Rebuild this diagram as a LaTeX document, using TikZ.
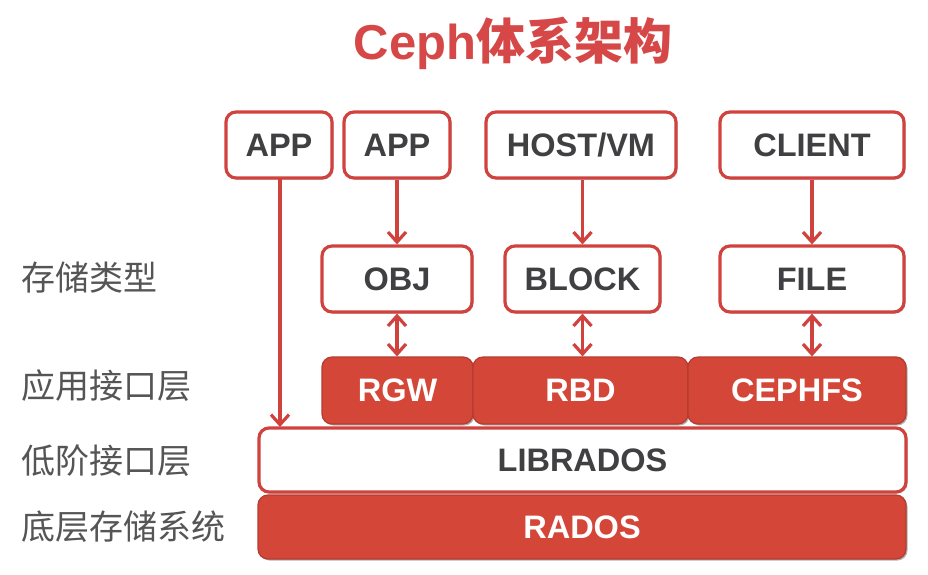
\documentclass[tikz,border=0pt]{standalone}
\usepackage{fontspec}
\setmainfont{Liberation Sans}
\newfontfamily\cjk{Noto Sans CJK SC}
\usetikzlibrary{arrows.meta,shadows}
\definecolor{cred}{RGB}{208,66,62}
\definecolor{cfill}{RGB}{212,70,56}
\definecolor{ctext}{RGB}{64,64,66}
\definecolor{clabel}{RGB}{85,85,85}
\definecolor{ctitle}{RGB}{214,72,72}
\tikzset{
  wbox/.style={draw=cred, line width=3.2pt, fill=white, rounded corners=10pt,
    text=ctext, font=\fontsize{32.5}{32.5}\selectfont\bfseries, inner sep=0pt,
    drop shadow={shadow xshift=1.5pt, shadow yshift=-1.5pt, opacity=0.25, fill=black}},
  rbox/.style={draw=cfill!85!black, line width=1.2pt, fill=cfill, rounded corners=10pt,
    text=white, font=\fontsize{32.5}{32.5}\selectfont\bfseries, inner sep=0pt,
    drop shadow={shadow xshift=1.5pt, shadow yshift=-1.5pt, opacity=0.3, fill=black}},
  lab/.style={text=clabel, font=\cjk\fontsize{34}{34}\selectfont, anchor=west, inner sep=0pt},
  conn/.style={draw=cred, line width=3.2pt, -{Straight Barb[length=10pt,width=18pt,line width=3.2pt]}},
  dconn/.style={draw=cred, line width=3.2pt, {Straight Barb[length=10pt,width=18pt,line width=3.2pt]}-{Straight Barb[length=10pt,width=18pt,line width=3.2pt]}},
}
\newcommand{\bx}[6]{\node[#1, minimum width=#4pt-#3pt, minimum height=#6pt-#5pt] (#2) at ({(#3+#4)/2*1pt},{-(#5+#6)/2*1pt})}
\begin{document}
\begin{tikzpicture}[x=1pt,y=-1pt]
\useasboundingbox[fill=white] (0,0) rectangle (928,574);
% title
\node[text=ctitle, font=\fontsize{49}{49}\selectfont\bfseries, inner sep=0pt] (title) at (513,43) {Ceph{\cjk\bfseries 体系架构}};
% left labels
\node[lab] (l1) at (21,278) {存储类型};
\node[lab] (l2) at (21,386) {应用接口层};
\node[lab] (l3) at (21,461) {低阶接口层};
\node[lab] (l4) at (21,527) {底层存储系统};
% bottom layers
\bx{rbox}{rados}{258}{906}{495}{559} {RADOS};
\bx{wbox}{librados}{259}{906}{428}{492} {LIBRADOS};
\bx{rbox}{rgw}{322}{473}{357}{424} {RGW};
\bx{rbox}{rbd}{473}{688}{357}{424} {RBD};
\bx{rbox}{cephfs}{688}{906}{357}{424} {CEPHFS};
% storage types
\bx{wbox}{obj}{322}{472}{246}{312} {OBJ};
\bx{wbox}{block}{505}{660}{246}{312} {BLOCK};
\bx{wbox}{file}{720}{904}{246}{312} {FILE};
% top
\bx{wbox}{app1}{226}{332}{112}{178} {APP};
\bx{wbox}{app2}{344}{450}{112}{178} {APP};
\bx{wbox}{host}{486}{676}{112}{178} {HOST/VM};
\bx{wbox}{client}{720}{904}{112}{178} {CLIENT};
% connectors
\coordinate (a1s) at (280,178);
\coordinate (a1e) at (280,427);
\draw[conn] (a1s) -- (a1e);
\draw[conn] (app2.south) -- (obj.north);
\draw[conn] (host.south -| block.north) -- (block.north);
\draw[conn] (client.south) -- (file.north);
\draw[dconn] (obj.south) -- (obj.south |- rgw.north);
\draw[dconn] (block.south) -- (block.south |- rbd.north);
\draw[dconn] (file.south) -- (file.south |- cephfs.north);
\end{tikzpicture}
\end{document}
